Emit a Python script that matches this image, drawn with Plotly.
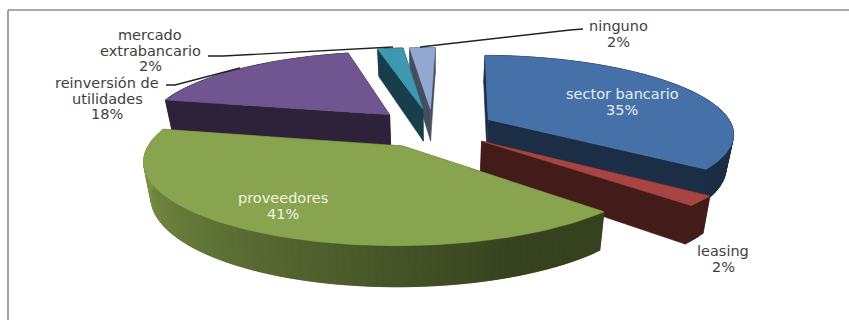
import math
import plotly.graph_objects as go

# Financing sources, share of total (%)
categories = ["sector bancario", "leasing", "proveedores",
              "reinversión de utilidades", "mercado extrabancario", "ninguno"]
values = [35, 2, 41, 18, 2, 2]

top_colors = ["#4571A8", "#A64542", "#88A44F", "#6F5690", "#3E98AF", "#93A8D0"]
side_colors = ["#1B2E46", "#431B18", "#36421E", "#2D2239", "#173F4B", "#454E60"]
rim_left_color = (128, 154, 72)      # lit end of the front rim
rim_right_color = (54, 66, 30)       # shaded end of the front rim

# Perspective model of the tilted pie
CX, CY = 433.0, 128.0
SCALE_X, SCALE_Y = 245.0, 478.0
DIST = 6.2
HEIGHT = 33.0
BOTTOM_SHRINK = 0.975
EXPLODE = 0.255
FIRST_ANGLE = math.radians(1.2)


def project(x, y, low=False):
    s = DIST / (DIST + y)
    px = CX + x * SCALE_X * s
    py = CY - SCALE_Y * y / (DIST + y)
    if low:
        px = CX + (px - CX) * BOTTOM_SHRINK
        py += HEIGHT * s
    return px, py


fig = go.Figure()


def polygon(points, color):
    fig.add_trace(go.Scatter(
        x=[p[0] for p in points] + [points[0][0]],
        y=[p[1] for p in points] + [points[0][1]],
        mode="lines", fill="toself", fillcolor=color,
        line=dict(color=color, width=0.6),
        hoverinfo="skip", showlegend=False,
    ))


def mix(a, b, t):
    return "rgb({},{},{})".format(*[round(a[i] + (b[i] - a[i]) * t) for i in range(3)])


# Angular extent of each slice, clockwise from twelve o'clock
total = sum(values)
extents = []
running = 0.0
for v in values:
    extents.append((running, running + v))
    running += v


def draw_slice(i):
    a0, a1 = [FIRST_ANGLE + 2 * math.pi * e / total for e in extents[i]]
    mid = (a0 + a1) / 2
    ox, oy = EXPLODE * math.sin(mid), EXPLODE * math.cos(mid)
    n = max(4, int(values[i] * 2.4))
    angles = [a0 + (a1 - a0) * k / n for k in range(n + 1)]
    outer = [(ox + math.sin(a), oy + math.cos(a)) for a in angles]
    apex = (ox, oy)

    # Cut faces, far one first
    for edge in (outer[0], outer[-1]) if i != 2 else (outer[-1], outer[0]):
        polygon([project(*apex), project(*edge),
                 project(*edge, low=True), project(*apex, low=True)],
                side_colors[i])

    # Outer rim: each quad laps under the next so the shading has no seams
    for k in range(n):
        p, q = outer[k], outer[min(k + 2, n)]
        if i == 2:
            # front slice: stays shaded on the right, brightens toward the left
            u = (k + 0.5) / n
            color = mix(rim_right_color, rim_left_color,
                        min(1.0, max(0.0, (u - 0.15) / 0.78)))
        else:
            color = side_colors[i]
        polygon([project(*p), project(*q),
                 project(*q, low=True), project(*p, low=True)], color)

    polygon([project(*apex)] + [project(*p) for p in outer], top_colors[i])


# Painted back to front
for idx in (5, 4, 3, 0, 1, 2):
    draw_slice(idx)

# Leader lines from the outside labels
leaders = [
    ([208, 223, 393], [56, 56, 47]),
    ([166, 175, 240], [85, 85, 68]),
    ([583, 570, 420], [29, 30, 47]),
]
for lx, ly in leaders:
    fig.add_trace(go.Scatter(x=lx, y=ly, mode="lines",
                             line=dict(color="#222222", width=1.4),
                             hoverinfo="skip", showlegend=False))

# Each label line is placed on its own so the leading stays tight
label_lines = {
    0: (622, 94, ["sector bancario"], "#E6ECF4"),
    1: (723, 251, ["leasing"], "#404040"),
    2: (283, 198, ["proveedores"], "#F0F3E8"),
    3: (107, 83, ["reinversión de", "utilidades"], "#404040"),
    4: (150, 35, ["mercado", "extrabancario"], "#404040"),
    5: (618, 26, ["ninguno"], "#404040"),
}
LEADING = 15.5
for i, (lx, ly, lines, color) in label_lines.items():
    for j, text in enumerate(lines + [f"{values[i]}%"]):
        fig.add_annotation(x=lx, y=ly + j * LEADING, text=text, showarrow=False,
                           xanchor="center", yanchor="middle",
                           font=dict(family="DejaVu Sans", size=14.5, color=color))

fig.update_layout(
    width=849, height=320,
    margin=dict(l=0, r=0, t=0, b=0),
    paper_bgcolor="white", plot_bgcolor="white",
    xaxis=dict(range=[0, 849], visible=False, fixedrange=True),
    yaxis=dict(range=[320, 0], visible=False, fixedrange=True),
    showlegend=False,
    shapes=[
        dict(type="line", x0=8, x1=8, y0=10, y1=320, line=dict(color="#8C8C8C", width=1.6)),
        dict(type="line", x0=8, x1=849, y0=10, y1=10, line=dict(color="#8C8C8C", width=1.6)),
    ],
)

fig.write_html("out.html", config={"displayModeBar": False})
